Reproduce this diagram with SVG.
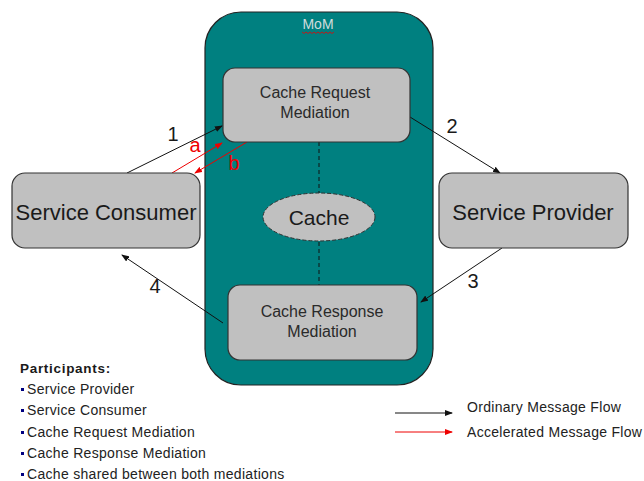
<svg xmlns="http://www.w3.org/2000/svg" width="644" height="481" viewBox="0 0 644 481">
<style>
text{font-family:"Liberation Sans",Arial,sans-serif;fill:#1a1a1a}
.box{fill:#c0c0c0;stroke:#333;stroke-width:1.2}
.lbl{font-size:16px;text-anchor:middle;fill:#2a2a2a}
.big{font-size:22px;text-anchor:middle}
.num{font-size:20px;text-anchor:middle}
.blk{stroke:#111;stroke-width:1;fill:none;marker-end:url(#ab)}
.red{stroke:#e00;stroke-width:1;fill:none;marker-end:url(#ar)}
.leg{font-size:14px;letter-spacing:0.3px;fill:#222}
.bul{fill:#000080}
</style>
<defs>
<marker id="ab" markerWidth="8" markerHeight="6" refX="7" refY="3" orient="auto" markerUnits="userSpaceOnUse"><path d="M0,0 L8,3 L0,6 z" fill="#111"/></marker>
<marker id="ar" markerWidth="8" markerHeight="6" refX="7" refY="3" orient="auto" markerUnits="userSpaceOnUse"><path d="M0,0 L8,3 L0,6 z" fill="#e00"/></marker>
</defs>
<g id="mom">
<rect x="205" y="12" width="228" height="373" rx="36" fill="#008080" stroke="#222" stroke-width="1.2"/>
<text x="318" y="29" font-size="14" text-anchor="middle" style="fill:#d0dcdc">MoM</text>
<path d="M302,32 l2,1.5 l2,-1.5 l2,1.5 l2,-1.5 l2,1.5 l2,-1.5 l2,1.5 l2,-1.5 l2,1.5 l2,-1.5 l2,1.5 l2,-1.5 l2,1.5 l2,-1.5 l2,1.5 l2,-1.5" stroke="#e00" stroke-width="0.8" fill="none"/>
</g>
<g id="connectors">
<line x1="319" y1="142" x2="319" y2="193" stroke="#111" stroke-dasharray="4,3"/>
<line x1="319" y1="242" x2="319" y2="285" stroke="#111" stroke-dasharray="4,3"/>
<line class="blk" x1="127" y1="173" x2="222" y2="126"/>
<line class="red" x1="172" y1="173" x2="222" y2="143"/>
<line class="red" x1="247" y1="142" x2="195" y2="173"/>
<line class="blk" x1="410" y1="117" x2="500" y2="173"/>
<line class="blk" x1="502" y1="248" x2="421" y2="302"/>
<line class="blk" x1="223" y1="323" x2="122" y2="255"/>
<text class="num" x="173" y="141">1</text>
<text class="num" x="195" y="152" style="fill:#e00">a</text>
<text class="num" x="234" y="170" style="fill:#e00">b</text>
<text class="num" x="452" y="133">2</text>
<text class="num" x="473" y="288">3</text>
<text class="num" x="155" y="293">4</text>
</g>
<g id="cache-request">
<rect class="box" x="223" y="68" width="187" height="74" rx="12"/>
<text class="lbl" x="315" y="98">Cache Request</text>
<text class="lbl" x="315" y="118">Mediation</text>
</g>
<g id="cache">
<ellipse cx="319" cy="217" rx="56" ry="24" fill="#c0c0c0" stroke="#333" stroke-dasharray="4,2"/>
<text class="big" x="319" y="225" style="font-size:21px">Cache</text>
</g>
<g id="cache-response">
<rect class="box" x="228" y="285" width="189" height="75" rx="12"/>
<text class="lbl" x="322" y="317">Cache Response</text>
<text class="lbl" x="322" y="337">Mediation</text>
</g>
<g id="service-consumer">
<rect class="box" x="12" y="173" width="188" height="75" rx="13"/>
<text class="big" x="106" y="220">Service Consumer</text>
</g>
<g id="service-provider">
<rect class="box" x="439" y="173" width="189" height="75" rx="13"/>
<text class="big" x="533" y="220">Service Provider</text>
</g>
<g id="participants">
<text x="20" y="373" font-size="13.5" font-weight="bold" letter-spacing="0.7">Participants:</text>
<rect class="bul" x="21" y="388" width="3" height="3"/>
<text class="leg" x="27" y="394">Service Provider</text>
<rect class="bul" x="21" y="409" width="3" height="3"/>
<text class="leg" x="27" y="415">Service Consumer</text>
<rect class="bul" x="21" y="431" width="3" height="3"/>
<text class="leg" x="27" y="437">Cache Request Mediation</text>
<rect class="bul" x="21" y="452" width="3" height="3"/>
<text class="leg" x="27" y="458">Cache Response Mediation</text>
<rect class="bul" x="21" y="473" width="3" height="3"/>
<text class="leg" x="27" y="479">Cache shared between both mediations</text>
</g>
<g id="legend">
<line class="blk" x1="395" y1="413" x2="452" y2="413"/>
<text class="leg" x="467" y="412">Ordinary Message Flow</text>
<line class="red" x1="395" y1="432" x2="452" y2="432"/>
<text class="leg" x="467" y="437">Accelerated Message Flow</text>
</g>
</svg>
